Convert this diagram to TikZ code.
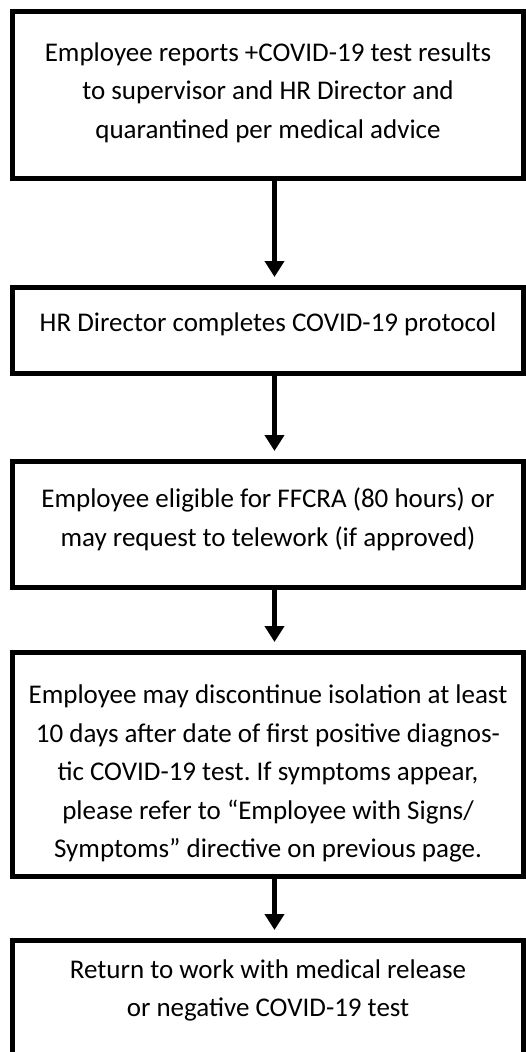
\documentclass[tikz,border=0pt]{standalone}
\usepackage{fontspec}
\setmainfont{Carlito}
\usetikzlibrary{arrows.meta}
\frenchspacing
% invisible struts to nudge the text inside a box
\newcommand{\liftby}[1]{\rule[-#1]{0pt}{#1}}
\newcommand{\dropby}[1]{\rule{0pt}{#1}}
\begin{document}
\begin{tikzpicture}[x=1pt,y=-1pt]

    \useasboundingbox (0,0) rectangle (525,1052);
    \begin{scope}[every node/.style={rectangle,draw,line width=5pt,minimum width=510.5pt,inner sep=0pt,align=center,font=\fontsize{27}{38.5}\selectfont}]
        \node[minimum height=166.5pt] (report) at (268,94.75) {Employee reports +COVID-19 test results\\to supervisor and HR Director and\\quarantined per medical advice\liftby{9pt}};
        \node[minimum height=86pt] (protocol) at (268,330) {HR Director completes COVID-19 protocol\liftby{16pt}};
        \node[minimum height=126pt] (ffcra) at (268,524) {Employee eligible for FFCRA (80 hours) or\\may request to telework (if approved)\liftby{14pt}};
        \node[minimum height=224pt] (isolation) at (268,764) {\dropby{38pt}Employee may discontinue isolation at least\\10 days after date of first positive diagnos-\\tic COVID-19 test. If symptoms appear,\\please refer to “Employee with Signs/\\Symptoms” directive on previous page.};
        \node[minimum height=122pt] (return) at (268,1001) {Return to work with medical release\\or negative COVID-19 test\liftby{26pt}};
    \end{scope}
    \begin{scope}[every path/.style={-{Triangle[width=19pt,length=16pt]},line width=5pt,shorten >=7.5pt}]
        \path ([xshift=6.5pt]report.south) edge ([xshift=6.5pt]protocol.north);
        \path ([xshift=6.5pt]protocol.south) edge ([xshift=6.5pt]ffcra.north);
        \path ([xshift=6.5pt]ffcra.south) edge ([xshift=6.5pt]isolation.north);
        \path ([xshift=6.5pt]isolation.south) edge ([xshift=6.5pt]return.north);
    \end{scope}
\end{tikzpicture}
\end{document}
